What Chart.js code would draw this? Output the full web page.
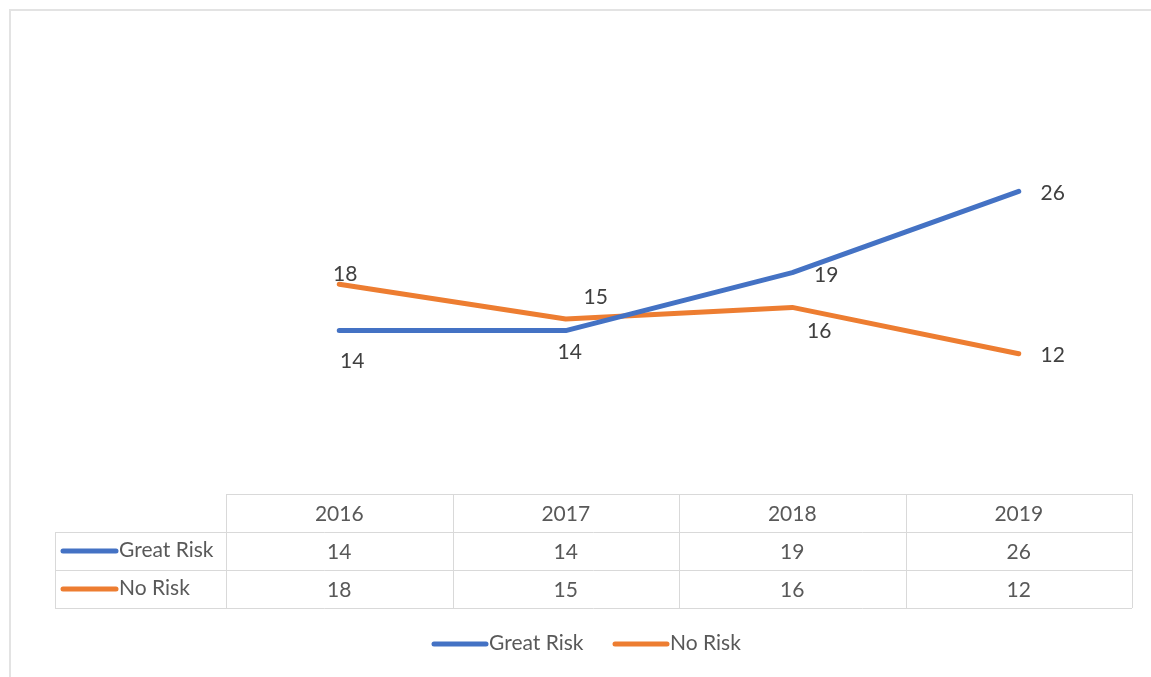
<!DOCTYPE html>
<html>
<head>
<meta charset="utf-8">
<script src="https://cdn.jsdelivr.net/npm/chart.js@4.4.0/dist/chart.umd.min.js"></script>
<style>
  html, body { margin: 0; padding: 0; background: #fff; overflow: hidden; }
  #frame { position: absolute; left: 9px; top: 9px; width: 1200px; height: 720px; border: 2px solid #e3e3e3; }
  #wrap { position: absolute; left: 0; top: 0; width: 1151px; height: 677px; }
</style>
</head>
<body>
<div id="frame"></div>
<div id="wrap"><canvas id="riskChart"></canvas></div>
<script>
const years = ['2016', '2017', '2018', '2019'];
const greatRisk = [14, 14, 19, 26];
const noRisk = [18, 15, 16, 12];
const seriesNames = ['Great Risk', 'No Risk'];
const seriesColors = ['#4472C4', '#ED7D31'];

// where Excel put each data label, relative to its point
const labelNudge = [
    [[13, 30], [4, 21], [34, 2], [34, 1]],
    [[6, -11], [30, -23], [27, 23], [34, 0]]
];

const FONT = '21px Lato, "Open Sans", sans-serif';

const extras = {
    id: 'extras',
    afterDatasetsDraw(chart) {
        const ctx = chart.ctx;
        const xs = chart.scales.x;
        ctx.save();
        ctx.font = FONT;
        ctx.textAlign = 'center';
        ctx.textBaseline = 'middle';
        ctx.fillStyle = '#404040';
        chart.data.datasets.forEach((ds, di) => {
            chart.getDatasetMeta(di).data.forEach((pt, i) => {
                const n = labelNudge[di][i];
                ctx.fillText(String(ds.data[i]), pt.x + n[0], pt.y + n[1] + 1);
            });
        });

        // data table
        const area = chart.chartArea;
        const top = area.bottom + 1;
        const rowH = 38;
        const tableLeft = 55;
        ctx.strokeStyle = '#d9d9d9';
        ctx.lineWidth = 1;
        ctx.beginPath();
        ctx.moveTo(area.left, top + 0.5); ctx.lineTo(area.right, top + 0.5);
        for (let r = 1; r <= 3; r++) {
            ctx.moveTo(tableLeft, top + r * rowH + 0.5); ctx.lineTo(area.right, top + r * rowH + 0.5);
        }
        const step = (area.right - area.left) / years.length;
        for (let c = 0; c <= years.length; c++) {
            const x = Math.round(area.left + c * step) + 0.5;
            ctx.moveTo(x, top); ctx.lineTo(x, top + 3 * rowH);
        }
        ctx.moveTo(tableLeft + 0.5, top + rowH); ctx.lineTo(tableLeft + 0.5, top + 3 * rowH);
        ctx.stroke();

        ctx.fillStyle = '#595959';
        years.forEach((y, i) => {
            ctx.fillText(y, xs.getPixelForValue(i), top + rowH / 2 + 1);
        });
        chart.data.datasets.forEach((ds, di) => {
            const cy = top + rowH * (di + 1) + rowH / 2;
            ds.data.forEach((v, i) => {
                ctx.fillText(String(v), xs.getPixelForValue(i), cy + 1);
            });
            ctx.lineCap = 'round';
            ctx.lineWidth = 5;
            ctx.strokeStyle = seriesColors[di];
            ctx.beginPath();
            ctx.moveTo(63, cy); ctx.lineTo(116, cy);
            ctx.stroke();
            ctx.textAlign = 'left';
            ctx.fillText(seriesNames[di], 119, cy - 1);
            ctx.textAlign = 'center';
        });

        // legend at the bottom
        const legendY = 644;
        const legendX = [432, 613];
        seriesNames.forEach((name, di) => {
            ctx.lineCap = 'round';
            ctx.lineWidth = 5;
            ctx.strokeStyle = seriesColors[di];
            ctx.beginPath();
            ctx.moveTo(legendX[di] + 2, legendY); ctx.lineTo(legendX[di] + 54, legendY);
            ctx.stroke();
            ctx.textAlign = 'left';
            ctx.fillStyle = '#595959';
            ctx.fillText(name, legendX[di] + 57, legendY - 1);
        });
        ctx.restore();
    }
};

const ctx = document.getElementById('riskChart').getContext('2d');
new Chart(ctx, {
    type: 'line',
    data: {
        labels: years,
        datasets: [
            { label: seriesNames[0], data: greatRisk, borderColor: seriesColors[0], backgroundColor: seriesColors[0] },
            { label: seriesNames[1], data: noRisk, borderColor: seriesColors[1], backgroundColor: seriesColors[1] }
        ]
    },
    options: {
        responsive: true,
        maintainAspectRatio: false,
        animation: false,
        layout: { padding: { left: 226, right: 19, top: 145, bottom: 184 } },
        elements: {
            line: { borderWidth: 5, borderCapStyle: 'round', borderJoinStyle: 'round', tension: 0 },
            point: { radius: 0, hoverRadius: 0 }
        },
        scales: {
            x: { display: false, offset: true },
            y: { display: false, min: 0, max: 30 }
        },
        plugins: {
            legend: { display: false },
            tooltip: { enabled: false }
        }
    },
    plugins: [extras]
});
</script>
</body>
</html>
